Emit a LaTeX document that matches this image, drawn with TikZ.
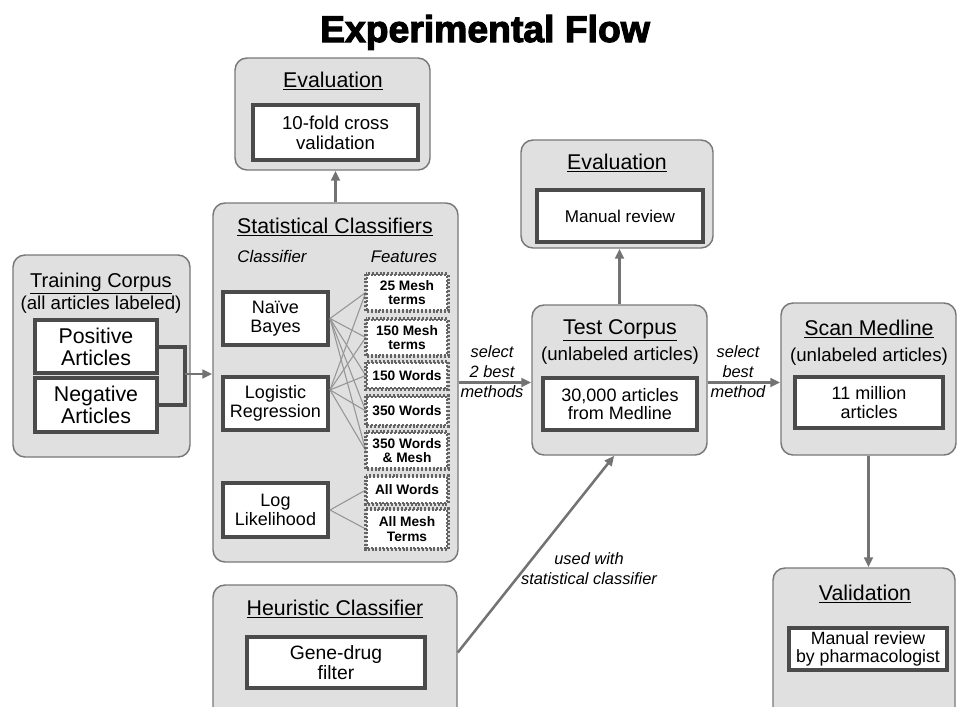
\documentclass[tikz,border=0pt]{standalone}
\usepackage{fontspec}
\setmainfont{Liberation Sans}
\newfontfamily\heavyfont{Liberation Sans}[BoldFeatures={FakeBold=3}]
\usetikzlibrary{arrows.meta,fit}

\definecolor{boxgray}{RGB}{224,224,224}
\definecolor{edgegray}{RGB}{120,120,120}
\definecolor{framegray}{RGB}{75,75,75}
\definecolor{arrowgray}{RGB}{115,115,115}
\definecolor{dotgray}{RGB}{100,100,100}
\definecolor{wiregray}{RGB}{150,150,150}

\tikzset{every picture/.style={line width=0.75pt}}
\tikzset{
  panel/.style={draw=edgegray, fill=boxgray, rounded corners=9pt, line width=1.1pt, inner sep=0pt},
  cell/.style={draw=framegray, fill=white, line width=3pt, align=center, inner sep=0pt, font=\fontsize{13.5}{14}\selectfont},
  feat/.style={draw=dotgray, fill=white, line width=1.9pt, dash pattern=on 1.5pt off 1.4pt, align=center, inner sep=0pt, minimum width=60pt, font=\bfseries\fontsize{10.3}{10.8}\selectfont},
  hd/.style={anchor=base, inner sep=0pt, font=\fontsize{16}{18}\selectfont},
  sub/.style={anchor=base, inner sep=0pt, font=\fontsize{14}{16}\selectfont},
  colhd/.style={anchor=base, inner sep=0pt, font=\itshape\fontsize{12.6}{14}\selectfont},
  note/.style={align=center, inner sep=0pt, font=\itshape\fontsize{12.3}{15}\selectfont},
  heading/.style={anchor=base, inner sep=0pt, font=\heavyfont\bfseries\fontsize{28}{30}\selectfont},
  flow/.style={draw=arrowgray, line width=1.9pt, -{Triangle[length=7.5pt,width=6.5pt]}},
  brace/.style={draw=framegray, line width=3pt},
  wire/.style={draw=wiregray, line width=0.8pt}
}

\begin{document}
\begin{tikzpicture}[x=0.75pt,y=0.75pt,yscale=-1,xscale=1]
\useasboundingbox (0,0) rectangle (957,707);
\clip (0,0) rectangle (957,707);

%Title
\node[heading] (title) at (485,42) {Experimental Flow};

%Rounded Rect: panels
\node[panel, fit={(13,255) (190,457)}] (train) {};
\node[panel, fit={(235,58) (430,170)}] (evalcv) {};
\node[panel, fit={(213,203) (458,562)}] (stat) {};
\node[panel, fit={(521,140) (713,248)}] (evalman) {};
\node[panel, fit={(532,305) (707,455)}] (test) {};
\node[panel, fit={(781,303) (956,455)}] (scan) {};
\node[panel, fit={(773,568) (955,720)}] (valid) {};
\node[panel, fit={(213,585) (457,720)}] (heur) {};

%Text: panel headings
\node[hd, font=\fontsize{15}{17}\selectfont] (trainhd) at (101,287) {\underline{Training Corpus}};
\node[sub] (trainsub) at (101,309) {(all articles labeled)};
\node[hd] (evalcvhd) at (333,87) {\underline{Evaluation}};
\node[hd] (stathd) at (335,233) {\underline{Statistical Classifiers}};
\node[colhd] (clshd) at (272,262) {Classifier};
\node[colhd] (feathd) at (404,262) {Features};
\node[hd] (evalmanhd) at (617,169) {\underline{Evaluation}};
\node[hd] (testhd) at (620,334) {\underline{Test Corpus}};
\node[sub] (testsub) at (620,360) {(unlabeled articles)};
\node[hd] (scanhd) at (869,335) {\underline{Scan Medline}};
\node[sub] (scansub) at (869,361) {(unlabeled articles)};
\node[hd] (validhd) at (865,600) {\underline{Validation}};
\node[hd] (heurhd) at (335,615) {\underline{Heuristic Classifier}};

%Rectangles: inner boxes
\node[cell, minimum width=91.5pt, minimum height=39.75pt, font=\fontsize{16}{16.5}\selectfont] (pos) at (96,346.5) {Positive\\Articles};
\node[cell, minimum width=91.5pt, minimum height=40.5pt, font=\fontsize{16}{16.5}\selectfont] (neg) at (96,405) {Negative\\Articles};
\node[cell, minimum width=123.75pt, minimum height=41.25pt, font=\fontsize{14}{15}\selectfont] (cv) at (335.5,132.5) {10-fold cross\\validation};
\node[cell, minimum width=78.75pt, minimum height=39.75pt] (nb) at (275.5,318.5) {Naïve\\Bayes};
\node[cell, minimum width=78.75pt, minimum height=39.75pt] (lr) at (275.5,403.5) {Logistic\\Regression};
\node[cell, minimum width=78.75pt, minimum height=40.5pt] (ll) at (275.5,510) {Log\\Likelihood};
\node[cell, minimum width=124.5pt, minimum height=39pt, font=\fontsize{12.8}{14}\selectfont] (manual) at (620,216) {Manual review};
\node[cell, minimum width=115.5pt, minimum height=39pt] (medline) at (620,404) {30,000 articles\\from Medline};
\node[cell, minimum width=111pt, minimum height=38.25pt] (million) at (869,402.5) {11 million\\articles};
\node[cell, minimum width=119pt, minimum height=32pt, font=\fontsize{13.3}{14}\selectfont] (pharm) at (868,649) {Manual review\\by pharmacologist};
\node[cell, minimum width=133.5pt, minimum height=38.25pt, font=\fontsize{14.5}{15}\selectfont] (gene) at (336,662.5) {Gene-drug\\filter};

%Dotted boxes: features
\node[feat, minimum height=26.25pt] (f1) at (407,292.5) {25 Mesh\\terms};
\node[feat, minimum height=26.25pt] (f2) at (407,337.5) {150 Mesh\\terms};
\node[feat, minimum height=18.75pt] (f3) at (407,375.5) {150 Words};
\node[feat, minimum height=21pt] (f4) at (407,411) {350 Words};
\node[feat, minimum height=26.25pt] (f5) at (407,450.5) {350 Words\\\& Mesh};
\node[feat, minimum height=19.5pt] (f6) at (407,490) {All Words};
\node[feat, minimum height=28.5pt] (f7) at (407,529) {All Mesh\\Terms};

%Straight Lines: classifier to features
\foreach \f in {f1,f2,f3,f4,f5} {
  \draw[wire] (nb.east) -- (\f.west);
  \draw[wire] (lr.14) -- (\f.west);
}
\foreach \f in {f6,f7}
  \draw[wire] (ll.east) -- (\f.west);
% redraw feature borders over the wires
\foreach \f in {f1,f2,f3,f4,f5,f6,f7}
  \draw[feat, fill=none] (\f.north west) rectangle (\f.south east);

%Straight Lines: bracket and arrows
\coordinate (br) at (185,374);
\draw[brace] (pos.east) -| (br) |- (neg.east);
\draw[flow] (br) -- (br -| stat.west);
\draw[flow] (stat.north) -- (stat.north |- evalcv.south);
\draw[flow] (stat.east) -- (stat.east -| test.west);
\draw[flow] (test.east |- stat.east) -- (scan.west |- stat.east);
\draw[flow] (test.north) -- (test.north |- evalman.south);
\draw[flow] (scan.south) -- (scan.south |- valid.north);
\draw[flow] (heur.east) -- (test.266);

%Text: arrow labels
\node[note] (sel2) at (492,372) {select\\2 best\\methods};
\node[note] (sel1) at (738,372) {select\\best\\method};
\node[note] (usedwith) at (589,569) {used with\\statistical classifier};
\end{tikzpicture}
\end{document}
